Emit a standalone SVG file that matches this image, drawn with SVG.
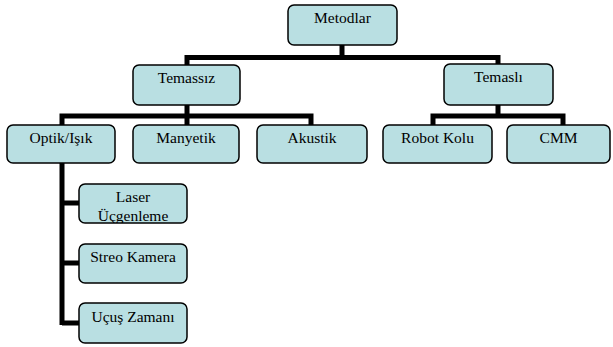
<svg xmlns="http://www.w3.org/2000/svg" width="613" height="347" viewBox="0 0 613 347">
<style>
.box{fill:#B9DFE2;stroke:#000;stroke-width:1.5}
.t{font-size:15.5px;text-anchor:middle;fill:#000}
.c{stroke:#000;stroke-width:5;fill:none}
</style>
<defs>
<clipPath id="clipLaser"><rect x="79" y="184" width="108" height="39" rx="6"/></clipPath>
</defs>
<rect width="613" height="347" fill="#fff"/>
<g id="connectors">
<path class="c" d="M342 45V57.5M187 65V57.5H498V64"/>
<path class="c" d="M187 105V116M62 125V116H311V125M187 116V125"/>
<path class="c" d="M498 105V116M433 125V116H563V125"/>
<path class="c" d="M62 163V325M62 203H79M62 263H79M62 323H79"/>
</g>
<g font-family="'Liberation Serif', 'Times New Roman', 'DejaVu Serif', serif">
<g id="metodlar"><rect class="box" x="288" y="5" width="109" height="40" rx="6"/><text class="t" x="342.5" y="23">Metodlar</text></g>
<g id="temassiz"><rect class="box" x="133" y="65" width="107" height="40" rx="6"/><text class="t" x="186.5" y="83">Temassız</text></g>
<g id="temasli"><rect class="box" x="444" y="64" width="109" height="41" rx="6"/><text class="t" x="498.5" y="82">Temaslı</text></g>
<g id="optik"><rect class="box" x="7" y="125" width="108" height="38" rx="6"/><text class="t" x="61" y="143">Optik/Işık</text></g>
<g id="manyetik"><rect class="box" x="133" y="125" width="106" height="38" rx="6"/><text class="t" x="186" y="143">Manyetik</text></g>
<g id="akustik"><rect class="box" x="257" y="125" width="110" height="38" rx="6"/><text class="t" x="312" y="143">Akustik</text></g>
<g id="robot"><rect class="box" x="383" y="125" width="109" height="38" rx="6"/><text class="t" x="437.5" y="143">Robot Kolu</text></g>
<g id="cmm"><rect class="box" x="507" y="125" width="103" height="38" rx="6"/><text class="t" x="558.5" y="143">CMM</text></g>
<g id="laser"><rect class="box" x="79" y="184" width="108" height="39" rx="6"/><text class="t" x="133" y="202">Laser</text><text class="t" x="133" y="221" clip-path="url(#clipLaser)">Üçgenleme</text></g>
<g id="stereo"><rect class="box" x="79" y="244" width="108" height="39" rx="6"/><text class="t" x="133" y="262">Streo Kamera</text></g>
<g id="ucus"><rect class="box" x="79" y="303" width="108" height="40" rx="6"/><text class="t" x="133" y="322">Uçuş Zamanı</text></g>
</g>
</svg>
